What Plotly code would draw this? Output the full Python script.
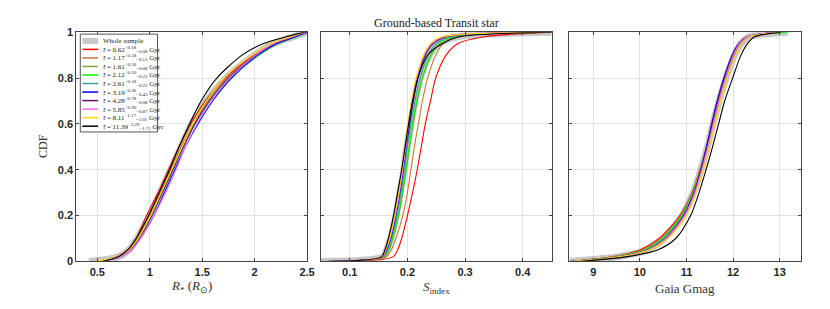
import plotly.graph_objects as go

CDF_LEVELS = [0, 0.02, 0.05, 0.1, 0.2, 0.3, 0.4, 0.5, 0.6, 0.7, 0.8, 0.9, 0.95, 0.98, 1.0]

SERIES_NAMES = ["Whole sample", "0.62", "1.17", "1.61", "2.12", "2.61", "3.19", "4.28", "5.85", "8.11", "11.39"]
SERIES_SUP = ["", "+0.18", "+0.18", "+0.26", "+0.20", "+0.18", "+0.36", "+0.78", "+0.90", "+1.17", "+2.29"]
SERIES_SUB = ["", "−0.08", "−0.12", "−0.08", "−0.22", "−0.22", "−0.43", "−0.08", "−0.87", "−1.01", "−1.71"]
SERIES_COLORS = ["#c8c8c8", "#ff0000", "#c87533", "#77ac30", "#00ff00", "#3a9e9e",
                 "#0000ff", "#6a0f6e", "#ff66ff", "#ffd700", "#000000"]

# R* (R_sun) values at each CDF level
R_CURVES = [
    [0.42, 0.70, 0.80, 0.88, 1.00, 1.10, 1.20, 1.30, 1.40, 1.54, 1.73, 2.00, 2.18, 2.37, 2.50],
    [0.55, 0.69, 0.79, 0.87, 0.97, 1.08, 1.18, 1.28, 1.39, 1.53, 1.72, 2.00, 2.20, 2.38, 2.50],
    [0.56, 0.70, 0.80, 0.88, 0.99, 1.10, 1.20, 1.30, 1.41, 1.55, 1.74, 2.01, 2.20, 2.38, 2.50],
    [0.55, 0.71, 0.81, 0.89, 1.01, 1.11, 1.21, 1.31, 1.42, 1.56, 1.75, 2.02, 2.21, 2.39, 2.50],
    [0.56, 0.71, 0.81, 0.90, 1.02, 1.12, 1.22, 1.32, 1.43, 1.58, 1.77, 2.04, 2.22, 2.40, 2.50],
    [0.55, 0.71, 0.81, 0.89, 1.01, 1.12, 1.22, 1.32, 1.43, 1.57, 1.76, 2.02, 2.20, 2.38, 2.50],
    [0.56, 0.72, 0.82, 0.91, 1.04, 1.14, 1.24, 1.34, 1.46, 1.60, 1.78, 2.03, 2.21, 2.39, 2.50],
    [0.55, 0.71, 0.81, 0.90, 1.02, 1.12, 1.22, 1.32, 1.43, 1.57, 1.75, 2.01, 2.19, 2.37, 2.50],
    [0.56, 0.72, 0.82, 0.91, 1.04, 1.15, 1.25, 1.34, 1.45, 1.58, 1.76, 2.01, 2.18, 2.36, 2.48],
    [0.45, 0.70, 0.80, 0.89, 1.01, 1.11, 1.21, 1.31, 1.41, 1.54, 1.71, 1.97, 2.15, 2.34, 2.47],
    [0.55, 0.70, 0.79, 0.87, 0.99, 1.09, 1.19, 1.28, 1.38, 1.49, 1.64, 1.88, 2.08, 2.30, 2.47],
]

# S_index values at each CDF level
S_CURVES = [
    [0.05, 0.157, 0.164, 0.171, 0.180, 0.187, 0.194, 0.199, 0.206, 0.213, 0.222, 0.238, 0.255, 0.287, 0.45],
    [0.05, 0.175, 0.183, 0.190, 0.200, 0.209, 0.217, 0.224, 0.231, 0.240, 0.249, 0.267, 0.287, 0.333, 0.45],
    [0.06, 0.163, 0.172, 0.180, 0.192, 0.200, 0.206, 0.212, 0.219, 0.226, 0.235, 0.249, 0.262, 0.285, 0.45],
    [0.06, 0.160, 0.168, 0.175, 0.185, 0.192, 0.198, 0.204, 0.210, 0.217, 0.226, 0.240, 0.255, 0.280, 0.45],
    [0.06, 0.159, 0.167, 0.174, 0.184, 0.191, 0.197, 0.203, 0.209, 0.216, 0.226, 0.241, 0.256, 0.280, 0.45],
    [0.06, 0.158, 0.165, 0.172, 0.182, 0.189, 0.195, 0.200, 0.206, 0.213, 0.222, 0.236, 0.250, 0.275, 0.45],
    [0.06, 0.157, 0.164, 0.171, 0.180, 0.187, 0.193, 0.198, 0.204, 0.210, 0.218, 0.230, 0.243, 0.262, 0.45],
    [0.06, 0.157, 0.163, 0.170, 0.179, 0.186, 0.192, 0.197, 0.203, 0.210, 0.218, 0.231, 0.245, 0.268, 0.45],
    [0.05, 0.157, 0.163, 0.170, 0.179, 0.186, 0.192, 0.197, 0.202, 0.208, 0.216, 0.229, 0.242, 0.262, 0.45],
    [0.09, 0.156, 0.162, 0.169, 0.178, 0.185, 0.191, 0.196, 0.201, 0.207, 0.215, 0.228, 0.240, 0.260, 0.45],
    [0.06, 0.155, 0.161, 0.167, 0.176, 0.183, 0.190, 0.196, 0.202, 0.209, 0.218, 0.235, 0.260, 0.290, 0.45],
]

# Gaia Gmag values at each CDF level
G_CURVES = [
    [8.50, 9.52, 10.16, 10.52, 10.91, 11.15, 11.31, 11.45, 11.57, 11.70, 11.85, 12.03, 12.17, 12.35, 13.17],
    [8.50, 9.40, 10.00, 10.41, 10.86, 11.12, 11.29, 11.43, 11.56, 11.69, 11.84, 12.02, 12.16, 12.33, 13.00],
    [8.50, 9.45, 10.05, 10.45, 10.88, 11.13, 11.30, 11.44, 11.57, 11.70, 11.85, 12.03, 12.17, 12.34, 13.00],
    [8.50, 9.45, 10.08, 10.47, 10.89, 11.13, 11.30, 11.44, 11.56, 11.69, 11.84, 12.02, 12.16, 12.33, 13.10],
    [8.50, 9.50, 10.10, 10.50, 10.90, 11.14, 11.30, 11.43, 11.55, 11.67, 11.82, 12.00, 12.14, 12.32, 13.20],
    [8.50, 9.50, 10.12, 10.52, 10.92, 11.15, 11.31, 11.44, 11.56, 11.68, 11.83, 12.01, 12.15, 12.33, 13.00],
    [8.50, 9.55, 10.18, 10.56, 10.95, 11.17, 11.31, 11.43, 11.54, 11.66, 11.80, 11.98, 12.12, 12.30, 12.90],
    [8.50, 9.55, 10.17, 10.55, 10.94, 11.16, 11.31, 11.44, 11.55, 11.67, 11.81, 11.99, 12.13, 12.31, 12.90],
    [8.50, 9.55, 10.18, 10.56, 10.96, 11.18, 11.33, 11.46, 11.58, 11.70, 11.84, 12.01, 12.14, 12.31, 12.90],
    [8.50, 9.55, 10.20, 10.60, 11.00, 11.21, 11.36, 11.49, 11.61, 11.73, 11.87, 12.05, 12.18, 12.35, 13.00],
    [8.70, 9.70, 10.38, 10.77, 11.09, 11.27, 11.42, 11.56, 11.69, 11.82, 11.99, 12.17, 12.31, 12.46, 13.03],
]

Y_TICKS = [0, 0.2, 0.4, 0.6, 0.8, 1]
R_TICKS = [0.5, 1, 1.5, 2, 2.5]
S_TICKS = [0.1, 0.2, 0.3, 0.4]
G_TICKS = [9, 10, 11, 12, 13]

OFF = 8  # page body margin
W, H = 830 - 2 * OFF, 309 - 2 * OFF


def px(x):
    return (x - OFF) / W


def py(y):
    return 1 - (y - OFF) / H


SERIF = "Liberation Serif"
SANS = "Liberation Sans"

fig = go.Figure()

panels = [(R_CURVES, "x", "y"), (S_CURVES, "x2", "y2"), (G_CURVES, "x3", "y3")]
for curves, xa, ya in panels:
    for i, xs in enumerate(curves):
        fig.add_trace(go.Scatter(
            x=xs, y=CDF_LEVELS, xaxis=xa, yaxis=ya, mode="lines",
            line=dict(color=SERIES_COLORS[i], width=7 if i == 0 else 1.1,
                      shape="spline", smoothing=0.8),
            showlegend=False, hoverinfo="skip"))

x_domains = [(77, 310), (324, 557), (575, 809)]
x_ranges = [(0.3, 2.5), (0.05, 0.45), (8.49, 13.46)]
x_ticks = [R_TICKS, S_TICKS, G_TICKS]
ydom = [py(266), py(27)]

axis_common = dict(showline=True, linecolor="#444444", linewidth=1, mirror="ticks",
                   ticks="inside", ticklen=3, tickcolor="#444444",
                   showgrid=True, gridcolor="#e3e3e3", gridwidth=1, zeroline=False,
                   tickfont=dict(family=SANS, size=11, color="#262626", weight="bold"))

for k in range(3):
    suffix = "" if k == 0 else str(k + 1)
    fig.layout["xaxis" + suffix] = dict(
        domain=[px(x_domains[k][0]), px(x_domains[k][1])], range=list(x_ranges[k]),
        tickvals=x_ticks[k], anchor="y" + suffix, **axis_common)
    fig.layout["yaxis" + suffix] = dict(
        domain=ydom, range=[0, 1], tickvals=Y_TICKS, anchor="x" + suffix,
        showticklabels=(k == 0), **axis_common)

shapes = []
annotations = []

# legend box
shapes.append(dict(type="rect", xref="paper", yref="paper",
                   x0=px(81), x1=px(159), y0=py(131), y1=py(29),
                   line=dict(color="#555555", width=1), fillcolor="white", layer="above"))
row0, dy = 36.0, 8.9
for i in range(len(SERIES_NAMES)):
    yy = row0 + i * dy
    shapes.append(dict(type="line", xref="paper", yref="paper",
                       x0=px(83), x1=px(99), y0=py(yy), y1=py(yy), layer="above",
                       line=dict(color=SERIES_COLORS[i], width=6 if i == 0 else 1.5)))
    if i == 0:
        label = SERIES_NAMES[0]
    else:
        label = ("<i>t\u0304</i> = " + SERIES_NAMES[i] + "<sup>" + SERIES_SUP[i] + "</sup>"
                 + "<sub>" + SERIES_SUB[i] + "</sub> Gyr")
    annotations.append(dict(text=label, xref="paper", yref="paper", x=px(102), y=py(yy),
                            xanchor="left", yanchor="middle", showarrow=False,
                            font=dict(family=SERIF, size=7, color="#222222")))

# titles
annotations += [
    dict(text="Ground-based Transit star", xref="paper", yref="paper", x=px(440.5), y=py(17),
         xanchor="center", yanchor="middle", showarrow=False,
         font=dict(family=SERIF, size=12, color="#222222")),
    dict(text="<i>R</i><sub>*</sub> (<i>R</i><sub>⊙</sub>)", xref="paper", yref="paper",
         x=px(193.5), y=py(292), xanchor="center", yanchor="middle", showarrow=False,
         font=dict(family=SERIF, size=13, color="#333333")),
    dict(text="<i>S</i><sub>index</sub>", xref="paper", yref="paper",
         x=px(440.5), y=py(293), xanchor="center", yanchor="middle", showarrow=False,
         font=dict(family=SERIF, size=13, color="#333333")),
    dict(text="Gaia Gmag", xref="paper", yref="paper",
         x=px(692), y=py(294), xanchor="center", yanchor="middle", showarrow=False,
         font=dict(family=SERIF, size=13, color="#333333")),
    dict(text="CDF", xref="paper", yref="paper", x=px(44), y=py(146), textangle=-90,
         xanchor="center", yanchor="middle", showarrow=False,
         font=dict(family=SERIF, size=12, color="#333333")),
]

fig.update_layout(width=W, height=H, margin=dict(l=0, r=0, t=0, b=0),
                  paper_bgcolor="white", plot_bgcolor="white",
                  shapes=shapes, annotations=annotations, showlegend=False)

fig.write_html("out.html")
